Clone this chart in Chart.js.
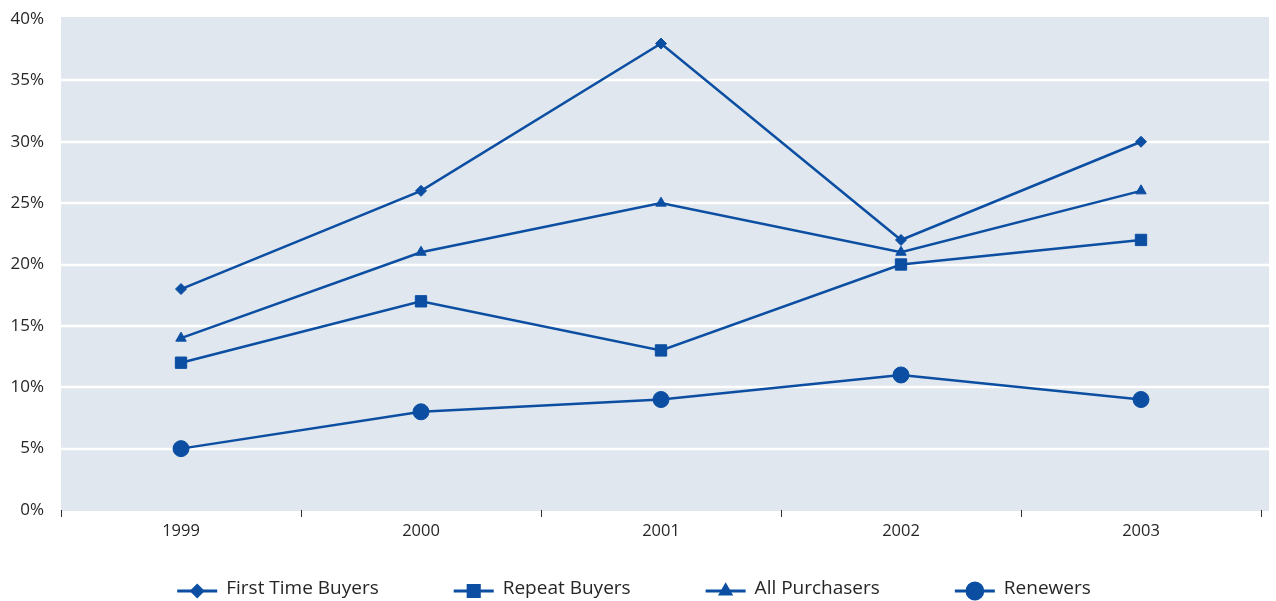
<!DOCTYPE html>
<html><head><meta charset="utf-8">
<script src="https://cdn.jsdelivr.net/npm/chart.js@4"></script>
<style>html,body{margin:0;padding:0;background:#fff}#wrap{width:1276px;height:601px}</style>
</head><body><div id="wrap"><canvas id="c" width="1276" height="601"></canvas></div>
<script>
const years = ['1999', '2000', '2001', '2002', '2003'];
const firstTimeBuyers = [18, 26, 38, 22, 30];
const repeatBuyers = [12, 17, 13, 20, 22];
const allPurchasers = [14, 21, 25, 21, 26];
const renewers = [5, 8, 9, 11, 9];
const seriesNames = ['First Time Buyers', 'Repeat Buyers', 'All Purchasers', 'Renewers'];
const yMin = 0, yMax = 40, yStep = 5;

const BLUE = '#0b4ea2';
const TEXT = '#262626';
const FONT = "'Open Sans', sans-serif";
const EXT = 8;

const bgPlugin = {
  id: 'bg',
  beforeDraw(chart) {
    const {ctx, chartArea: a, scales: {y}} = chart;
    ctx.save();
    ctx.fillStyle = '#e0e7ee';
    ctx.fillRect(a.left, a.top - 2, a.right - a.left + EXT, a.bottom - a.top + 3);
    ctx.strokeStyle = '#ffffff';
    ctx.lineWidth = 2.5;
    y.ticks.forEach(t => {
      if (t.value <= yMin || t.value >= yMax) return;
      const py = Math.round(y.getPixelForValue(t.value));
      ctx.beginPath();
      ctx.moveTo(a.left, py);
      ctx.lineTo(a.right + EXT, py);
      ctx.stroke();
    });
    ctx.restore();
  }
};

const legendPlugin = {
  id: 'customLegend',
  afterDraw(chart) {
    const ctx = chart.ctx;
    const ds = chart.data.datasets;
    const lineW = 40, gapText = 9, gapItem = 75, cy = 591, center = 634;
    ctx.save();
    ctx.font = '19px ' + FONT;
    const widths = ds.map(d => ctx.measureText(d.label).width);
    let total = 0;
    widths.forEach((w, i) => { total += lineW + gapText + w + (i < widths.length - 1 ? gapItem : 0); });
    let x = center - total / 2;
    ds.forEach((d, i) => {
      ctx.strokeStyle = BLUE;
      ctx.lineWidth = 2.8;
      ctx.beginPath();
      ctx.moveTo(x, cy);
      ctx.lineTo(x + lineW, cy);
      ctx.stroke();
      ctx.fillStyle = BLUE;
      Chart.helpers.drawPoint(ctx, {pointStyle: d.pointStyle, radius: d.pointRadius, borderWidth: 1, rotation: 0}, x + lineW / 2, cy);
      ctx.fillStyle = TEXT;
      ctx.textBaseline = 'middle';
      ctx.textAlign = 'left';
      ctx.fillText(d.label, x + lineW + gapText, cy - 2);
      x += lineW + gapText + widths[i] + gapItem;
    });
    ctx.restore();
  }
};

function mk(label, data, style, r) {
  return {
    label, data,
    borderColor: BLUE, backgroundColor: BLUE,
    borderWidth: 2.5, tension: 0,
    pointStyle: style, pointRadius: r, pointHoverRadius: r,
    pointBorderWidth: 1, pointBorderColor: BLUE, pointBackgroundColor: BLUE
  };
}

new Chart(document.getElementById('c'), {
  type: 'line',
  data: {
    labels: years,
    datasets: [
      mk(seriesNames[0], firstTimeBuyers, 'rectRot', 5.5),
      mk(seriesNames[1], repeatBuyers, 'rect', 8),
      mk(seriesNames[2], allPurchasers, 'triangle', 6),
      mk(seriesNames[3], renewers, 'circle', 8)
    ]
  },
  options: {
    responsive: false,
    animation: false,
    layout: {padding: {top: 19, right: 15, bottom: 56, left: 0}},
    plugins: {legend: {display: false}, tooltip: {enabled: false}},
    scales: {
      x: {
        type: 'category',
        offset: true,
        grid: {offset: true, drawOnChartArea: false, drawTicks: true, tickLength: 7, color: '#333', lineWidth: 1},
        border: {display: false},
        ticks: {font: {family: FONT, size: 16.5}, color: TEXT, padding: 4, maxRotation: 0},
        afterFit(s) { s.height = 35; }
      },
      y: {
        min: yMin, max: yMax,
        grid: {display: true, drawOnChartArea: false, drawTicks: true, tickLength: 17, color: 'rgba(0,0,0,0)'},
        border: {display: false},
        ticks: {stepSize: yStep, font: {family: FONT, size: 17}, color: TEXT, padding: 0, callback: v => v + '%'},
        afterFit(s) { s.width = 61; }
      }
    }
  },
  plugins: [bgPlugin, legendPlugin]
});
</script></body></html>
